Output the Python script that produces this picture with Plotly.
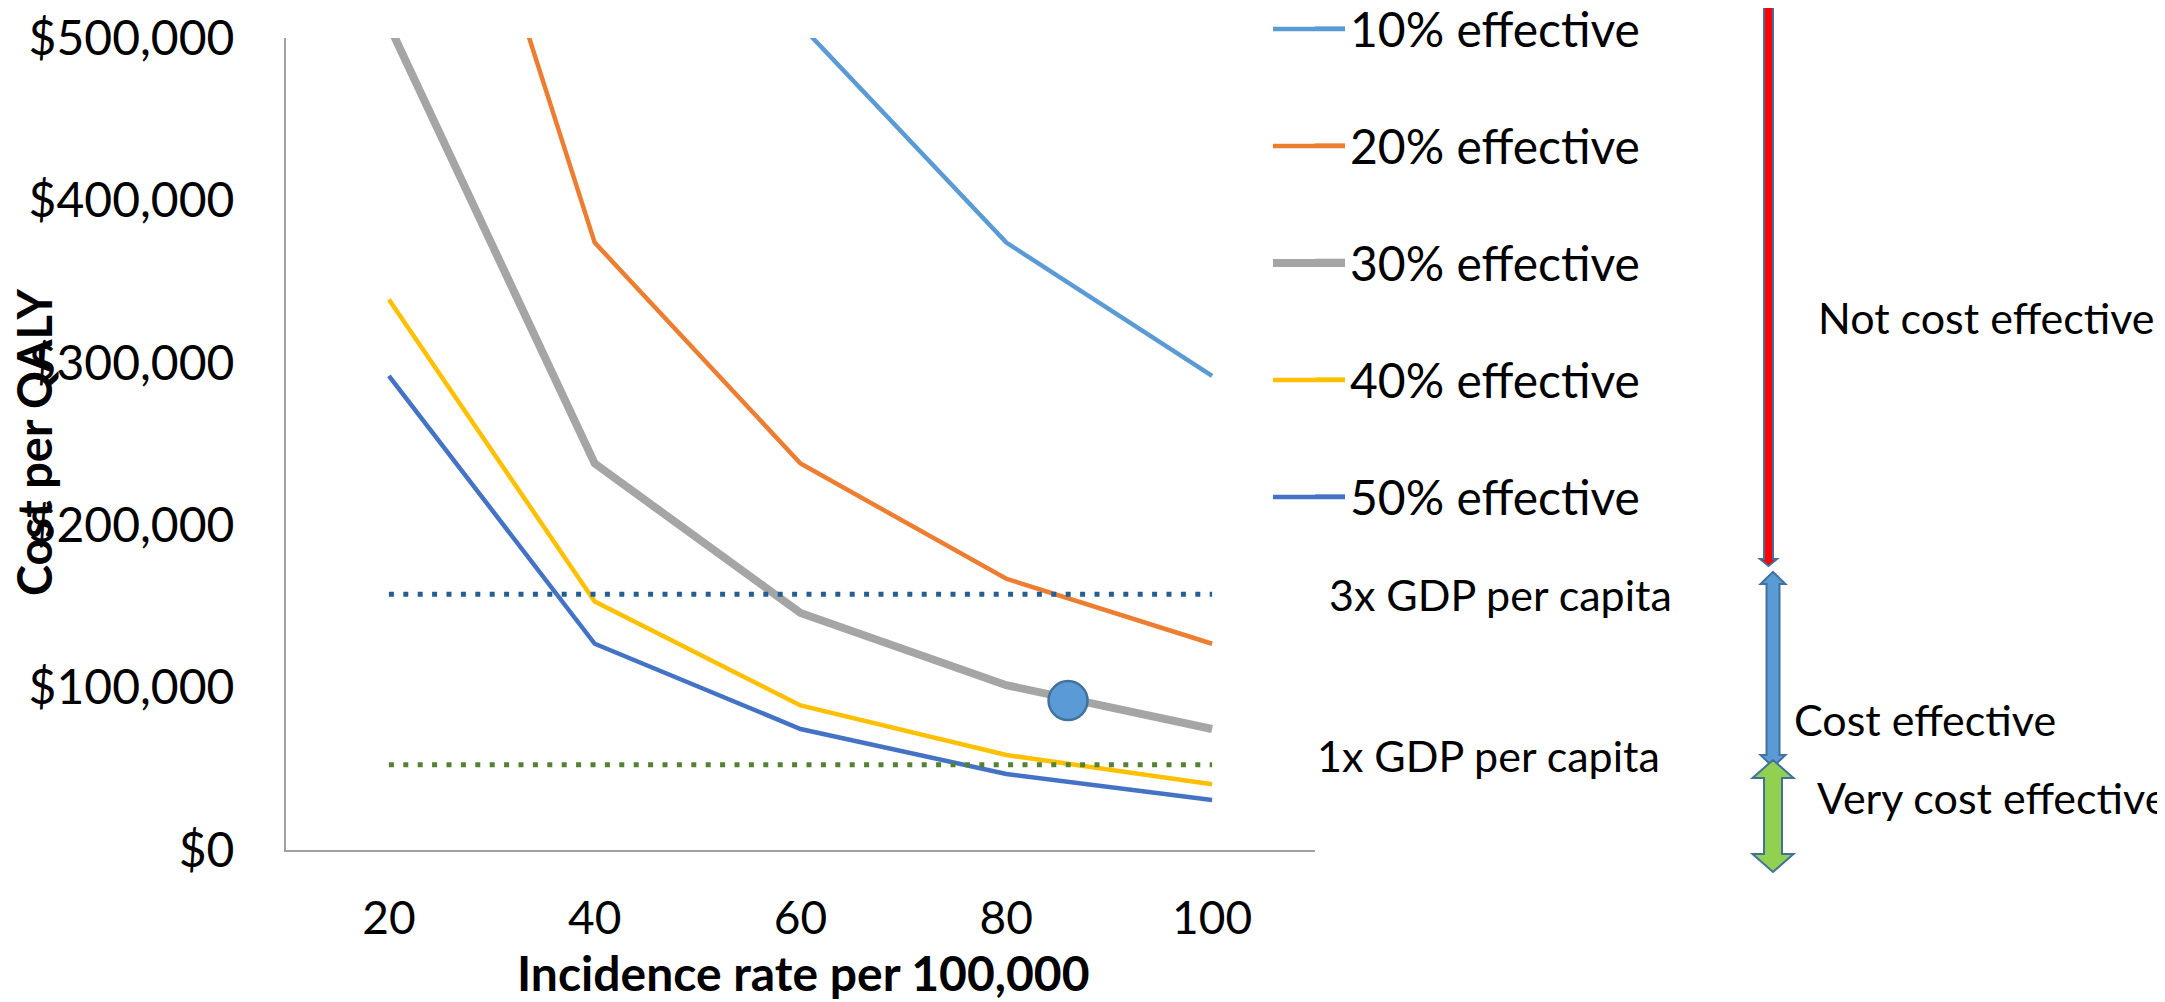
import plotly.graph_objects as go

# ---------------- data ----------------
incidence = [20, 40, 60, 80, 100]
series_names = ["10% effective", "20% effective", "30% effective", "40% effective", "50% effective"]
cost_10 = [1540000, 770000, 508000, 374000, 292000]
cost_20 = [770000, 374000, 238000, 167000, 127000]
cost_30 = [508000, 238000, 146000, 101500, 74500]
cost_40 = [339000, 153000, 89000, 58500, 40500]
cost_50 = [292000, 127000, 74500, 46800, 30800]
series_values = [cost_10, cost_20, cost_30, cost_40, cost_50]

threshold_x = [20, 100]
gdp_3x = [157500, 157500]
gdp_1x = [52500, 52500]

highlight_x = [86]
highlight_y = [92000]

y_ticks = [0, 100000, 200000, 300000, 400000, 500000]
y_tick_text = ["$" + f"{v:,}" for v in y_ticks]

# ---------------- styles ----------------
colors = ["#5B9BD5", "#ED7D31", "#A5A5A5", "#FFC000", "#4472C4"]
widths = [4.5, 4.5, 8, 4.5, 4.5]
FONT = "Lato, 'Open Sans', sans-serif"

# page has an 8px body margin; work in page pixels, size figure to fit the window
OFF = 8
W, H = 2165 - OFF, 1002 - OFF
PL, PT, PRX, PBY = 286, 38, 1315, 850          # plot area in page pixels
PW, PH = PRX - PL, PBY - PT
ML, MT = PL - OFF, PT - OFF
MR, MB = W - ML - PW, H - MT - PH


def px(x):
    return (x - PL) / PW


def py(y):
    return (PBY - y) / PH


fig = go.Figure()

legend_centers = [29, 146, 263, 380, 497]
for i, (name, vals) in enumerate(zip(series_names, series_values)):
    lg = "legend" if i == 0 else f"legend{i + 1}"
    fig.add_trace(go.Scatter(
        x=incidence, y=vals, mode="lines", name=name,
        line=dict(color=colors[i], width=widths[i]),
        legend=lg, hoverinfo="x+y+name",
    ))

fig.add_trace(go.Scatter(
    x=threshold_x, y=gdp_3x, mode="lines", name="3x GDP per capita",
    line=dict(color="#255E91", width=5, dash="5px,9.4px"), showlegend=False,
))
fig.add_trace(go.Scatter(
    x=threshold_x, y=gdp_1x, mode="lines", name="1x GDP per capita",
    line=dict(color="#548235", width=5, dash="5px,9.4px"), showlegend=False,
))
fig.add_trace(go.Scatter(
    x=highlight_x, y=highlight_y, mode="markers", showlegend=False,
    marker=dict(size=39, color="#5B9BD5", line=dict(color="#41719C", width=2.5)),
))

legends = {}
for i, yc in enumerate(legend_centers):
    key = "legend" if i == 0 else f"legend{i + 1}"
    legends[key] = dict(
        x=px(1310), xanchor="left", y=py(yc), yanchor="middle",
        font=dict(family=FONT, size=48, color="black"),
        bgcolor="rgba(0,0,0,0)", borderwidth=0, itemwidth=30,
    )

annotations = []


def add_text(text, x, y, size, bold=False, xanchor="left", angle=0):
    annotations.append(dict(
        text=f"<b>{text}</b>" if bold else text,
        x=px(x), y=py(y), xref="paper", yref="paper",
        xanchor=xanchor, yanchor="middle", showarrow=False, textangle=angle,
        font=dict(family=FONT, size=size, color="black"),
    ))


add_text("Cost per QALY", 34, 443, 47, bold=True, xanchor="center", angle=-90)
add_text("Incidence rate per 100,000", 803, 972, 48, bold=True, xanchor="center")
add_text("3x GDP per capita", 1327, 594, 43)
add_text("1x GDP per capita", 1315, 755, 43)
add_text("Not cost effective", 1816, 317, 43)
add_text("Cost effective", 1792, 719, 43)
add_text("Very cost effective", 1815, 797, 43)


def poly(points):
    return "M " + " L ".join(f"{px(x):.5f},{py(y):.5f}" for x, y in points) + " Z"


def double_arrow(cx, top, bottom, shaft_half, head_half, head_h):
    return poly([
        (cx, top), (cx + head_half, top + head_h), (cx + shaft_half, top + head_h),
        (cx + shaft_half, bottom - head_h), (cx + head_half, bottom - head_h),
        (cx, bottom), (cx - head_half, bottom - head_h), (cx - shaft_half, bottom - head_h),
        (cx - shaft_half, top + head_h), (cx - head_half, top + head_h),
    ])


shapes = [
    dict(type="path", xref="paper", yref="paper",
         path=double_arrow(1768.5, 0, 566, 4.5, 8.5, 7),
         fillcolor="#FF0000", line=dict(color="#41719C", width=2)),
    dict(type="path", xref="paper", yref="paper",
         path=double_arrow(1773, 572, 767, 6.5, 12.5, 12),
         fillcolor="#5B9BD5", line=dict(color="#41719C", width=2)),
    dict(type="path", xref="paper", yref="paper",
         path=double_arrow(1773, 760, 872, 9, 20.5, 18),
         fillcolor="#92D050", line=dict(color="#41719C", width=2)),
]
# longer legend key lines (as drawn in the reference legend)
for yc, c, w in zip(legend_centers, colors, widths):
    shapes.append(dict(type="line", xref="paper", yref="paper",
                       x0=px(1273), x1=px(1345), y0=py(yc), y1=py(yc),
                       line=dict(color=c, width=w)))

fig.update_layout(
    width=W, height=H,
    margin=dict(l=ML, r=MR, t=MT, b=MB, autoexpand=False),
    paper_bgcolor="white", plot_bgcolor="white",
    font=dict(family=FONT, size=46, color="black"),
    annotations=annotations, shapes=shapes,
    **legends,
)
fig.update_xaxes(
    range=[10, 110], tickvals=incidence, showgrid=False, zeroline=False,
    showline=True, linecolor="#A0A0A0", linewidth=2, ticks="",
    tickfont=dict(family=FONT, size=46, color="black"), ticklabelstandoff=27,
    ticklabeloverflow="allow",
)
fig.update_yaxes(
    range=[0, 500000], tickvals=y_ticks, ticktext=y_tick_text,
    showgrid=False, zeroline=False, showline=True, linecolor="#A0A0A0",
    linewidth=2, ticks="", tickfont=dict(family=FONT, size=48, color="black"),
    ticklabelstandoff=40, ticklabeloverflow="allow",
)

fig.write_html("out.html")
